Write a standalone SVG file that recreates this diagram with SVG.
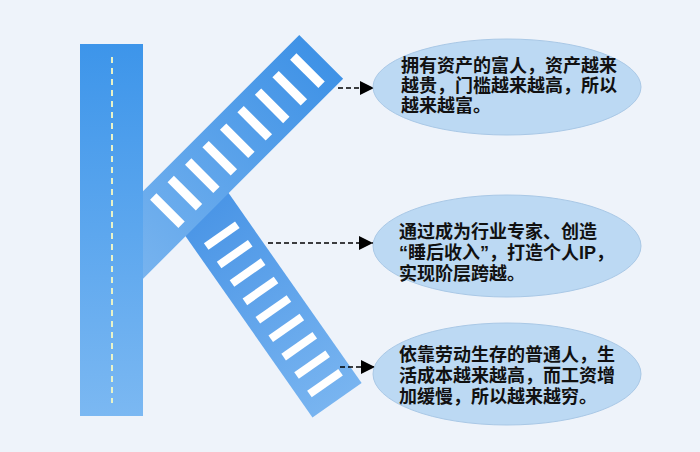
<svg xmlns="http://www.w3.org/2000/svg" width="700" height="452" viewBox="0 0 700 452">
<defs>
<linearGradient id="gv" x1="0" y1="0" x2="0" y2="1"><stop offset="0" stop-color="#3d95ea"/><stop offset="1" stop-color="#7bb8f2"/></linearGradient>
<linearGradient id="gb" x1="1" y1="0" x2="0" y2="0"><stop offset="0" stop-color="#3f92e6"/><stop offset="1" stop-color="#7ab5ef"/></linearGradient>
<linearGradient id="gl" x1="0" y1="0" x2="1" y2="0"><stop offset="0" stop-color="#4a95e6"/><stop offset="1" stop-color="#78b4f0"/></linearGradient>
<marker id="ah" viewBox="0 0 10 10" refX="10" refY="5" markerWidth="14" markerHeight="14" markerUnits="userSpaceOnUse" orient="auto"><path d="M0,0L10,5L0,10z" fill="#000"/></marker>
<style>
.st{fill:#fff}
.el{fill:#bcd9f3;stroke:#a9c8e6;stroke-width:1}
.tx{font-family:"Liberation Sans","Noto Sans CJK SC",sans-serif;font-size:18px;font-weight:bold;fill:#111}
.cn{stroke:#000;stroke-width:1.6;stroke-dasharray:5,3;fill:none}
</style>
</defs>
<rect width="700" height="452" fill="#eef3fa"/>
<g id="lower-band" transform="translate(208,216) rotate(55)">
<rect x="-10" y="-30" width="235" height="60" fill="url(#gl)"/>
<g class="st">
<rect x="20" y="-19" width="8" height="38"/><rect x="42.5" y="-19" width="8" height="38"/><rect x="65" y="-19" width="8" height="38"/><rect x="87.5" y="-19" width="8" height="38"/><rect x="110" y="-19" width="8" height="38"/><rect x="132.5" y="-19" width="8" height="38"/><rect x="155" y="-19" width="8" height="38"/><rect x="177.5" y="-19" width="8" height="38"/><rect x="200" y="-19" width="8" height="38"/>
</g>
</g>
<g id="upper-band" transform="translate(143,235) rotate(-45)">
<rect x="-45" y="-31" width="297" height="62" fill="url(#gb)"/>
<g class="st">
<rect x="30" y="-20" width="9" height="40"/><rect x="54.7" y="-20" width="9" height="40"/><rect x="79.4" y="-20" width="9" height="40"/><rect x="104" y="-20" width="9" height="40"/><rect x="128.8" y="-20" width="9" height="40"/><rect x="153.5" y="-20" width="9" height="40"/><rect x="178.2" y="-20" width="9" height="40"/><rect x="203" y="-20" width="9" height="40"/><rect x="228" y="-20" width="9" height="40"/>
</g>
</g>
<g id="vertical-bar">
<rect x="80" y="44" width="63" height="372" fill="url(#gv)"/>
<line x1="112" y1="57" x2="112" y2="403" stroke="#e8f3c8" stroke-width="2" stroke-dasharray="6,5"/>
</g>
<g id="connectors">
<line class="cn" x1="338" y1="88" x2="374" y2="88" marker-end="url(#ah)"/>
<line class="cn" x1="268" y1="243" x2="373" y2="243" marker-end="url(#ah)"/>
<line class="cn" x1="340" y1="367" x2="375" y2="367" marker-end="url(#ah)"/>
</g>
<g id="node1">
<ellipse class="el" cx="507" cy="87" rx="134" ry="48"/>
<text class="tx" x="401" y="72">拥有资产的富人，资产越来</text>
<text class="tx" x="401" y="92">越贵，门槛越来越高，所以</text>
<text class="tx" x="401" y="112">越来越富。</text>
</g>
<g id="node2">
<ellipse class="el" cx="507" cy="246" rx="134" ry="51"/>
<text class="tx" x="399" y="238">通过成为行业专家、创造</text>
<text class="tx" x="399" y="259">“睡后收入”，打造个人IP，</text>
<text class="tx" x="399" y="280">实现阶层跨越。</text>
</g>
<g id="node3">
<ellipse class="el" cx="507" cy="374" rx="134" ry="51"/>
<text class="tx" x="399" y="361">依靠劳动生存的普通人，生</text>
<text class="tx" x="399" y="382">活成本越来越高，而工资增</text>
<text class="tx" x="399" y="403">加缓慢，所以越来越穷。</text>
</g>
</svg>
